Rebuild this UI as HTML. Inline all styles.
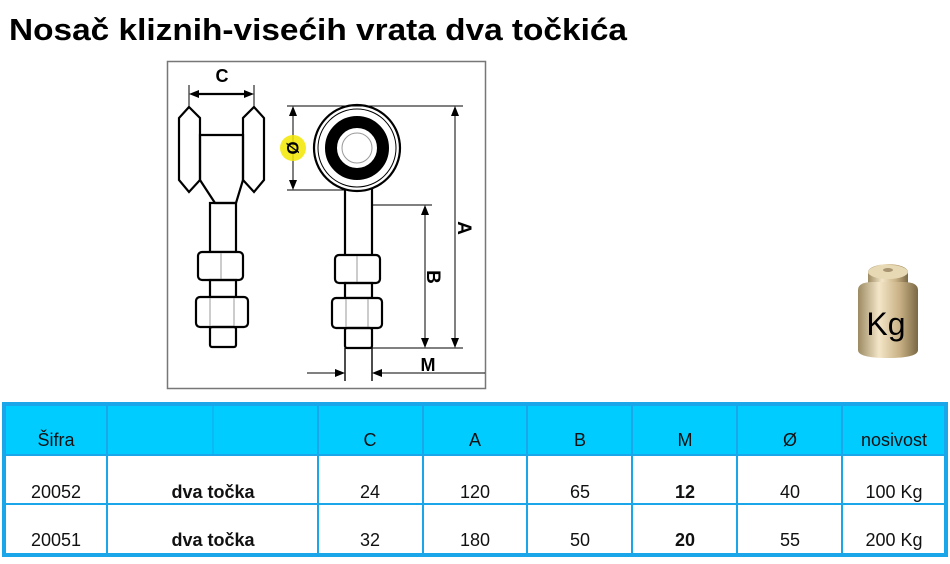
<!DOCTYPE html>
<html><head><meta charset="utf-8"><style>
body{margin:0;background:#fff;width:950px;height:559px;overflow:hidden;font-family:"Liberation Sans",sans-serif;}
</style></head><body>
<svg width="950" height="559" viewBox="0 0 950 559" xmlns="http://www.w3.org/2000/svg" font-family="Liberation Sans, sans-serif">
<text x="9" y="40" font-size="31" font-weight="bold" textLength="618" lengthAdjust="spacingAndGlyphs">Nosač kliznih-visećih vrata dva točkića</text>

<rect x="167.5" y="61.5" width="318" height="327" fill="none" stroke="#777" stroke-width="1.5"/>
<g stroke="#000" stroke-width="2.2" fill="none">
<line x1="189" y1="85" x2="189" y2="106" stroke-width="1"/><line x1="254" y1="85" x2="254" y2="106" stroke-width="1"/>
<line x1="194" y1="94" x2="249" y2="94"/>
<polygon points="189,94 199,90 199,98" fill="#000" stroke="none"/>
<polygon points="254,94 244,90 244,98" fill="#000" stroke="none"/>
<polygon points="189,107 200,118 200,180 189,192 179,180 179,118" fill="#fff"/>
<polygon points="254,107 264,118 264,180 254,192 243,180 243,118" fill="#fff"/>
<path d="M200,135 H243 V180 L236,203 H215 L200,180 Z"/>
<rect x="210" y="203" width="26" height="49"/>
<rect x="198" y="252" width="45" height="28" rx="4" fill="#fff"/>
<line x1="221" y1="253" x2="221" y2="279" stroke="#999" stroke-width="1"/>
<rect x="210" y="280" width="26" height="17"/>
<rect x="196" y="297" width="52" height="30" rx="4" fill="#fff"/>
<line x1="210" y1="298" x2="210" y2="326" stroke="#999" stroke-width="1"/><line x1="234" y1="298" x2="234" y2="326" stroke="#999" stroke-width="1"/>
<rect x="210" y="327" width="26" height="20" rx="2"/>
<path d="M345,188 L345,255 M372,188 L372,255"/>
<circle cx="357" cy="148" r="43" fill="#fff"/>
<circle cx="357" cy="148" r="39" stroke-width="1"/>
<circle cx="357" cy="148" r="26" stroke-width="12"/>
<circle cx="357" cy="148" r="15" stroke="#999" stroke-width="1"/>
<rect x="335" y="255" width="45" height="28" rx="4" fill="#fff"/>
<line x1="357" y1="256" x2="357" y2="282" stroke="#999" stroke-width="1"/>
<rect x="345" y="283" width="27" height="15"/>
<rect x="332" y="298" width="50" height="30" rx="4" fill="#fff"/>
<line x1="346" y1="299" x2="346" y2="327" stroke="#999" stroke-width="1"/><line x1="368" y1="299" x2="368" y2="327" stroke="#999" stroke-width="1"/>
<rect x="345" y="328" width="27" height="20" rx="2"/>
<line x1="345" y1="348" x2="345" y2="381" stroke-width="1.4"/><line x1="372" y1="348" x2="372" y2="381" stroke-width="1.4"/>
</g>
<g stroke="#000" stroke-width="1" fill="none">
<line x1="287" y1="106" x2="463" y2="106"/>
<line x1="287" y1="190" x2="345" y2="190"/>
<line x1="293" y1="112" x2="293" y2="184"/>
<line x1="455" y1="112" x2="455" y2="342"/>
<line x1="372" y1="205" x2="432" y2="205"/>
<line x1="372" y1="348" x2="463" y2="348"/>
<line x1="425" y1="211" x2="425" y2="342"/>
<line x1="307" y1="373" x2="339" y2="373"/>
<line x1="378" y1="373" x2="485" y2="373"/>
</g>
<g fill="#000">
<polygon points="293,106 289,116 297,116"/><polygon points="293,190 289,180 297,180"/>
<polygon points="455,106 451,116 459,116"/><polygon points="455,348 451,338 459,338"/>
<polygon points="425,205 421,215 429,215"/><polygon points="425,348 421,338 429,338"/>
<polygon points="345,373 335,369 335,377"/><polygon points="372,373 382,369 382,377"/>
</g>
<circle cx="293" cy="148" r="13" fill="#f2e600" opacity="0.85"/>
<text x="293" y="148" font-size="17" font-weight="bold" text-anchor="middle" transform="rotate(90 293 148) translate(0 6)">Ø</text>
<text x="222" y="82" font-size="18" font-weight="bold" text-anchor="middle">C</text>
<text x="465" y="228" font-size="19" font-weight="bold" text-anchor="middle" transform="rotate(90 465 228) translate(0 7)">A</text>
<text x="434" y="277" font-size="19" font-weight="bold" text-anchor="middle" transform="rotate(90 434 277) translate(0 7)">B</text>
<text x="428" y="371" font-size="18" font-weight="bold" text-anchor="middle">M</text>

<defs><linearGradient id="g" x1="0" x2="1"><stop offset="0" stop-color="#9c8a62"/><stop offset="0.35" stop-color="#f3e6c8"/><stop offset="0.7" stop-color="#c8b084"/><stop offset="1" stop-color="#7a6845"/></linearGradient></defs>
<ellipse cx="888" cy="272" rx="20" ry="8" fill="url(#g)"/>
<rect x="868" y="272" width="40" height="12" fill="url(#g)"/>
<ellipse cx="888" cy="272" rx="20" ry="7" fill="#e8d9b5"/>
<ellipse cx="888" cy="270" rx="5" ry="2" fill="#a89470"/>
<path d="M858,290 Q858,282 873,282 H903 Q918,282 918,290 V350 Q918,358 888,358 Q858,358 858,350 Z" fill="url(#g)"/>
<text x="886" y="335" font-size="32" text-anchor="middle" fill="#000">Kg</text>

<rect x="4" y="404" width="942" height="151" fill="none" stroke="#1aa6e8" stroke-width="4"/>
<rect x="6" y="406" width="938" height="48" fill="#00ccff"/>
<g stroke="#1aa6e8" stroke-width="2">
<line x1="6" y1="455" x2="944" y2="455"/><line x1="6" y1="504" x2="944" y2="504"/>
<line x1="107" y1="406" x2="107" y2="553"/>
<line x1="213" y1="406" x2="213" y2="454" stroke-width="1"/>
<line x1="318" y1="406" x2="318" y2="553"/><line x1="423" y1="406" x2="423" y2="553"/>
<line x1="527" y1="406" x2="527" y2="553"/><line x1="632" y1="406" x2="632" y2="553"/>
<line x1="737" y1="406" x2="737" y2="553"/><line x1="842" y1="406" x2="842" y2="553"/>
</g>
<g font-size="18" fill="#111" text-anchor="middle">
<text x="56" y="446">Šifra</text><text x="370" y="446">C</text><text x="475" y="446">A</text><text x="580" y="446">B</text><text x="685" y="446">M</text><text x="790" y="446">Ø</text><text x="894" y="446">nosivost</text>
<text x="56" y="498">20052</text><text x="370" y="498">24</text><text x="475" y="498">120</text><text x="580" y="498">65</text><text x="685" y="498" font-weight="bold">12</text><text x="790" y="498">40</text><text x="894" y="498">100 Kg</text>
<text x="56" y="546">20051</text><text x="370" y="546">32</text><text x="475" y="546">180</text><text x="580" y="546">50</text><text x="685" y="546" font-weight="bold">20</text><text x="790" y="546">55</text><text x="894" y="546">200 Kg</text>
<text x="213" y="498" font-weight="bold">dva točka</text><text x="213" y="546" font-weight="bold">dva točka</text>
</g>
</svg>
</body></html>
